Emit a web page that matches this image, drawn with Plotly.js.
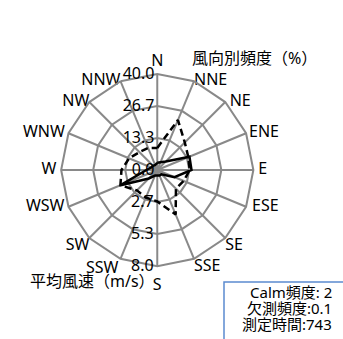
<!DOCTYPE html>
<html>
<head>
<meta charset="utf-8">
<script src="https://cdn.plot.ly/plotly-3.0.1.min.js"></script>
<style>html,body{margin:0;padding:0;background:#fff;}#chart{width:343px;height:339px;}</style>
</head>
<body>
<div id="chart"></div>
<script>
const directions = ['N','NNE','NE','ENE','E','ESE','SE','SSE','S','SSW','SW','WSW','W','WNW','NW','NNW'];
const frequency = [9.2, 22.5, 16.2, 14.0, 13.5, 11.9, 11.0, 20.0, 13.1, 12.4, 12.0, 16.6, 14.9, 12.7, 10.5, 9.9];
const meanSpeed = [0.6, 0.7, 1.0, 2.9, 2.85, 1.55, 0.5, 0.5, 0.45, 0.5, 1.0, 3.3, 0.9, 0.55, 0.5, 0.45];
const freqTickVals = [0, 13.333, 26.667, 40];
const freqTickText = ['0.0', '13.3', '26.7', '40.0'];
const speedTickVals = [2.667, 5.333, 8];
const speedTickText = ['2.7', '5.3', '8.0'];
const infoLines = ['Calm頻度: 2', '欠測頻度:0.1', '測定時間:743'];
const freqTitle = '風向別頻度（%）';
const speedTitle = '平均風速（m/s）';

const FONT = '"Noto Sans", "Noto Sans CJK JP", sans-serif';
const GRID = '#898989';
const FREQ_RANGE = [0, 40];
const SPEED_RANGE = [0, 8];
const closeLoop = a => a.concat([a[0]]);

// placement style of the direction names around the outer polygon (one entry per direction)
const labelPos = ['top center','middle right','middle right','middle right','middle right','middle right','bottom right','bottom right',
                  'bottom center','bottom left','bottom left','middle left','middle left','middle left','middle left','middle left'];
const labelGap = [5, 0, 5.6, 3.2, 6.4, 8, 0, 0, 16.8, 1.6, 0, 4.8, 5.9, 4.3, 0, 0];

const dom = {x:[0.178, 0.739], y:[0.215, 0.782]};

const traces = [
  {type:'scatterpolar', subplot:'polar', mode:'lines', r: closeLoop(frequency), theta: closeLoop(directions),
   line:{color:'#000', width:2.5, dash:'7px,4px'}, hoverinfo:'skip'},
  {type:'scatterpolar', subplot:'polar2', mode:'lines', r: closeLoop(meanSpeed), theta: closeLoop(directions),
   line:{color:'#000', width:2.5}, hoverinfo:'skip'},
  {type:'scatterpolar', subplot:'polar', mode:'markers+text', r: directions.map(() => FREQ_RANGE[1]), theta: directions,
   text: directions, textposition: labelPos, cliponaxis:false,
   marker:{size: labelGap, color:'rgba(0,0,0,0)', line:{width:0}},
   textfont:{family:FONT, size:16, color:'#000'}, hoverinfo:'skip'}
];

const layout = {
  width:343, height:339, margin:{l:0,r:0,t:0,b:0},
  paper_bgcolor:'#fff', showlegend:false,
  font:{family:FONT, size:16, color:'#000'},
  polar:{
    domain: dom, gridshape:'linear', bgcolor:'#fff',
    angularaxis:{type:'category', categoryarray:directions, direction:'clockwise', rotation:90,
      showgrid:true, gridcolor:GRID, gridwidth:2, showline:true, linecolor:GRID, linewidth:2,
      ticks:'', showticklabels:false},
    radialaxis:{range:FREQ_RANGE, tickvals:freqTickVals, ticktext:freqTickText, angle:90, tickangle:90,
      showline:false, gridcolor:GRID, gridwidth:2, ticks:'', side:'counterclockwise',
      tickfont:{size:16, family:FONT}}
  },
  polar2:{
    domain: dom, gridshape:'linear', bgcolor:'rgba(0,0,0,0)',
    angularaxis:{type:'category', categoryarray:directions, direction:'clockwise', rotation:90,
      showgrid:false, showline:false, showticklabels:false, ticks:''},
    radialaxis:{range:SPEED_RANGE, tickvals:speedTickVals, ticktext:speedTickText, angle:270, tickangle:-90,
      showline:false, showgrid:false, ticks:'', side:'clockwise',
      tickfont:{size:16, family:FONT}}
  },
  annotations:[
    {text:freqTitle, xref:'paper', yref:'paper', x:190/343, y:1-58/339, xanchor:'left', yanchor:'middle', showarrow:false, font:{size:16}},
    {text:speedTitle, xref:'paper', yref:'paper', x:28/343, y:1-281/339, xanchor:'left', yanchor:'middle', showarrow:false, font:{size:16}}
  ].concat(infoLines.map((t, i) => ({
    text:t, xref:'paper', yref:'paper', x:334/343, y:1-(292 + 16*i)/339, xanchor:'right', yanchor:'middle',
    showarrow:false, font:{size:15}
  }))),
  shapes:[
    {type:'rect', xref:'paper', yref:'paper', x0:224/343, x1:350/343, y0:-0.02, y1:1-282/339,
     line:{color:'#5b8bd0', width:1.5}, fillcolor:'rgba(0,0,0,0)'}
  ]
};
Plotly.newPlot('chart', traces, layout, {staticPlot:true, displayModeBar:false});
</script>
</body>
</html>
